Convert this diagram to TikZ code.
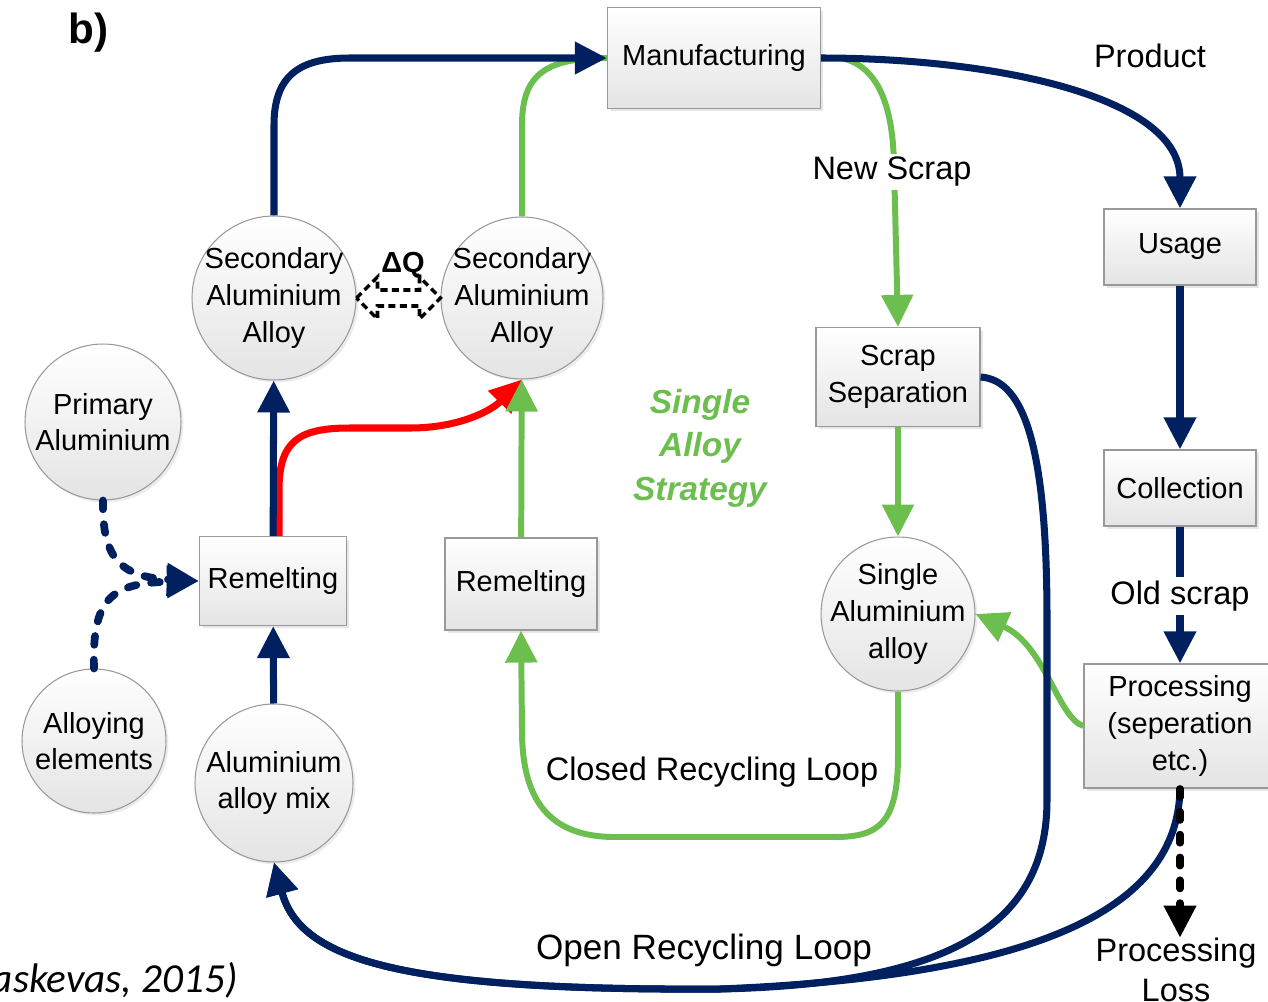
\documentclass[tikz,border=0pt]{standalone}
\usepackage{fontspec}
\setmainfont{Liberation Sans}
\newfontfamily\calibfont{Carlito}
\usetikzlibrary{arrows.meta,shadows,calc}

\definecolor{navy}{RGB}{0,32,96}
\definecolor{leaf}{RGB}{108,190,78}
\definecolor{boxgrey}{RGB}{228,228,228}

\newcommand{\boxfont}{\fontsize{16.5}{20.8}\selectfont}
\newcommand{\lblfont}{\fontsize{18.5}{22.8}\selectfont}

\begin{document}
\begin{tikzpicture}[
  x=0.02cm, y=-0.02cm,
  >={Triangle[length=0.64cm,width=0.62cm]},
  box/.style={draw=gray!80, line width=0.7pt, top color=white, bottom color=boxgrey, font=\boxfont, align=center, inner sep=0pt, drop shadow={opacity=0.2, shadow xshift=0.06cm, shadow yshift=-0.06cm}},
  circ/.style={circle, draw=gray!80, line width=0.6pt, top color=white, bottom color=boxgrey, minimum size=#1, inner sep=0pt, drop shadow={opacity=0.15, shadow xshift=0.05cm, shadow yshift=-0.05cm}},
  txt/.style={font=\boxfont, align=center, inner sep=0pt},
  lbl/.style={font=\lblfont, align=center, inner sep=2pt},
  flow/.style={navy, line width=4pt, ->},
  gflow/.style={leaf, line width=3.4pt, ->},
  dots/.style={line width=4.4pt, line cap=round, dash pattern=on 5pt off 8.5pt}
]
\useasboundingbox (0,0) rectangle (1268,1001);

\node[box, minimum width=4.26cm, minimum height=2.02cm] (man) at (714,58) {Manufacturing};
\node[box, minimum width=3.04cm, minimum height=1.52cm] (usage) at (1180,247) {Usage};
\node[box, minimum width=3.04cm, minimum height=1.52cm] (coll) at (1180,488) {Collection};
\node[box, minimum width=3.84cm, minimum height=2.48cm] (proc) at (1180,726) {Processing\\(seperation\\etc.)};
\node[box, minimum width=3.28cm, minimum height=1.98cm] (scrap) at (898,377) {Scrap\\Separation};
\node[box, minimum width=2.94cm, minimum height=1.78cm] (remA) at (273,581) {Remelting};
\node[box, minimum width=3.04cm, minimum height=1.84cm] (remB) at (521,584) {Remelting};

\node[circ=3.08cm, label={[txt]center:Single\\Aluminium\\alloy}] (sal) at (898,614) {};
\node[circ=3.28cm, label={[txt]center:Secondary\\Aluminium\\Alloy}] (secA) at (274,298) {};
\node[circ=3.24cm, label={[txt]center:Secondary\\Aluminium\\Alloy}] (secB) at (522,298) {};
\node[circ=3.12cm, label={[txt]center:Primary\\Aluminium}] (prim) at (103,422) {};
\node[circ=2.88cm, label={[txt]center:Alloying\\elements}] (alloy) at (94,741) {};
\node[circ=3.16cm, label={[txt]center:Aluminium\\alloy mix}] (mix) at (274,783) {};

\node[lbl, inner sep=0pt] (loss) at (1176,970) {Processing\\Loss};

% top of the loop
\draw[gflow, -] (secB.north) -- (522,125) .. controls (522,75) and (545,58) .. (man.west);
\draw[gflow] ([xshift=0.4cm]man.east) .. controls (880,66) and (893,110) .. (894,165) -- (scrap.north);
\draw[flow] (secA.north) -- (274,125) .. controls (274,75) and (300,58) .. (350,58) -- (man.west);
\draw[flow] (man.east) .. controls (990,58) and (1180,95) .. (usage.north);
\draw[flow] (usage) -- (coll);
\draw[flow] (coll) -- (proc);

% single alloy strategy
\draw[gflow] (scrap) -- (sal);
\draw[gflow] (proc.west) .. controls (1058,718) and (1045,645) .. (sal.east);
\draw[gflow] (sal.south) -- (898,755) .. controls (898,822) and (880,837) .. (835,837) -- (615,837) .. controls (545,837) and (522,795) .. (522,730) -- (remB.south);
\draw[red, line width=4pt, ->] ([xshift=0.12cm]remA.north) -- (279,490) .. controls (279,440) and (300,428) .. (350,428) -- (410,428) .. controls (460,428) and (492,410) .. (secB.south);
\draw[gflow] (remB) -- (secB);

% open loop
\draw[flow] (remA) -- (secA);
\draw[flow] (mix) -- (remA);
\draw[flow, dots] (prim.south) .. controls (102,555) and (118,577) .. (remA.west);
\draw[flow, dots] (alloy.north) .. controls (92,600) and (110,583) .. (remA.west);
\draw[flow] (proc.south) .. controls (1178,900) and (1060,975) .. (720,989) .. controls (400,991) and (300,960) .. (mix.south);
\draw[flow] (scrap.east) .. controls (1025,380) and (1047,450) .. (1047,620) -- (1047,800) .. controls (1047,925) and (950,984) .. (720,989) .. controls (400,991) and (300,960) .. (mix.south);
\draw[black, line width=4pt, line cap=round, dash pattern=on 5pt off 8pt, ->] (proc.south) -- (proc.south |- loss.north);

% quality gap between the two alloys
\coordinate (dq) at ($(secA.east)!0.5!(secB.west)$);
\draw[black, line width=2pt, dash pattern=on 4pt off 2.5pt] (dq) ++(-42,0) -- ++(21,-21) -- ++(0,13) -- ++(42,0) -- ++(0,-13) -- ++(21,21) -- ++(-21,21) -- ++(0,-13) -- ++(-42,0) -- ++(0,13) -- cycle;
\node[txt, font=\boxfont\bfseries] (dqlabel) at (403,265) {ΔQ};

\node[lbl] (product) at (1150,56) {Product};
\node[lbl, fill=white] (newscrap) at (892,172) {New Scrap};
\node[lbl, fill=white] (oldscrap) at (1180,596) {Old scrap};
\node[lbl] (closed) at (712,772) {Closed Recycling Loop};
\node[lbl, font=\fontsize{20}{24}\selectfont] (open) at (704,950) {Open Recycling Loop};
\node[txt, text=leaf, font=\fontsize{19}{24.7}\selectfont\bfseries\itshape] (strategy) at (700,448) {Single\\Alloy\\Strategy};

\node[anchor=base west, inner sep=0pt, font=\fontsize{24}{28}\selectfont\bfseries] (tag) at (68,43) {b)};
\node[anchor=base east, inner sep=0pt, font=\calibfont\fontsize{23.5}{28}\selectfont\itshape] (cite) at (238,992) {(Paraskevas, 2015)};
\end{tikzpicture}
\end{document}
